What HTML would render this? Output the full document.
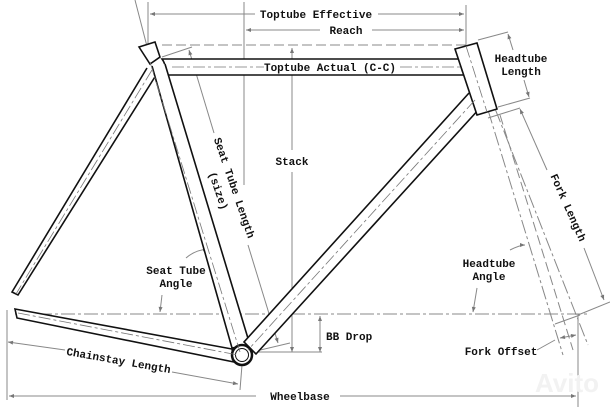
<!DOCTYPE html>
<html><head><meta charset="utf-8"><style>
html,body{margin:0;padding:0;background:#fff;}
svg{display:block;}
text{font-family:"Liberation Mono","DejaVu Sans Mono",monospace;font-size:11px;fill:#111;font-weight:bold;}
</style></head><body>
<svg width="610" height="407" viewBox="0 0 610 407" xmlns="http://www.w3.org/2000/svg">
<defs>
<marker id="a" viewBox="0 0 10 10" refX="10" refY="5" markerWidth="7" markerHeight="5" orient="auto-start-reverse"><path d="M0,1 L10,5 L0,9 z" fill="#777"/></marker>
</defs>
<g stroke="#888" stroke-width="1" fill="none">
<line x1="148" y1="2" x2="148" y2="60"/>
<line x1="466" y1="5" x2="466" y2="45"/>
<line x1="244" y1="2" x2="244" y2="185"/>
<line x1="135" y1="0" x2="150" y2="58"/>
<line x1="578" y1="314" x2="578" y2="407"/>
<line x1="7" y1="310" x2="7" y2="400"/>
<line x1="150" y1="14" x2="255" y2="14" marker-start="url(#a)"/>
<line x1="378" y1="14" x2="464" y2="14" marker-end="url(#a)"/>
<line x1="246" y1="30" x2="320" y2="30" marker-start="url(#a)"/>
<line x1="372" y1="30" x2="464" y2="30" marker-end="url(#a)"/>
<line x1="162" y1="45" x2="470" y2="45" stroke-dasharray="10,4"/>
<line x1="292" y1="48" x2="292" y2="150" marker-start="url(#a)"/>
<line x1="292" y1="172" x2="292" y2="352" marker-end="url(#a)"/>
<line x1="250" y1="352" x2="322" y2="352"/>
<line x1="320" y1="316" x2="320" y2="352" marker-start="url(#a)" marker-end="url(#a)"/>
<line x1="15" y1="314" x2="590" y2="314" stroke-dasharray="14,3,3,3"/>
<line x1="9" y1="396" x2="256" y2="396" marker-start="url(#a)"/>
<line x1="340" y1="396" x2="576" y2="396" marker-end="url(#a)"/>
<line x1="8" y1="342" x2="65" y2="350" marker-start="url(#a)"/>
<line x1="172" y1="372" x2="238" y2="384" marker-end="url(#a)"/>
<line x1="242" y1="365" x2="240" y2="390"/>
<line x1="162" y1="57" x2="192" y2="47"/>
<line x1="189" y1="50" x2="214" y2="133" marker-start="url(#a)"/>
<line x1="248" y1="245" x2="278" y2="343" marker-end="url(#a)"/>
<line x1="252" y1="352" x2="290" y2="343"/>
<path d="M186,258 Q195,250 208,249" marker-end="url(#a)"/>
<line x1="162" y1="295" x2="160" y2="312" marker-end="url(#a)"/>
<line x1="478" y1="40" x2="508" y2="32"/>
<line x1="498" y1="107" x2="530" y2="98"/>
<line x1="508" y1="34" x2="513" y2="50" marker-start="url(#a)"/>
<line x1="524" y1="80" x2="529" y2="97" marker-end="url(#a)"/>
<line x1="488" y1="118" x2="520" y2="108"/>
<line x1="520" y1="109" x2="547" y2="170" marker-start="url(#a)"/>
<line x1="584" y1="248" x2="604" y2="300" marker-end="url(#a)"/>
<line x1="578" y1="315" x2="610" y2="302"/>
<line x1="488" y1="110" x2="563" y2="355" stroke-dasharray="14,3,3,3"/>
<line x1="470" y1="45" x2="588" y2="345" stroke-dasharray="14,3,3,3"/>
<line x1="500" y1="115" x2="573" y2="350" stroke-dasharray="10,4"/>
<path d="M510,250 Q520,245 525,245" marker-end="url(#a)"/>
<path d="M477,288 Q475,300 473,312" marker-end="url(#a)"/>
<line x1="555" y1="324" x2="580" y2="315"/>
<line x1="537" y1="350" x2="555" y2="340" />
<line x1="560" y1="338" x2="576" y2="335" marker-start="url(#a)" marker-end="url(#a)"/>
</g>
<g stroke="#111" stroke-width="1.6" fill="#fff">
<path d="M147,68 L12,292 L18,295 L158,72"/>
<path d="M162,59 L465,59 Q458,67 465,75 L162,75 Q168,67 162,59 Z"/>
<path d="M152,66 L232,348 L250,345 L165,64"/>
<path d="M139,47 L155,42 L160,57 L150,64 Z"/>
<path d="M469,93 L244,342 L256,354 L480,108"/>
<path d="M455,49 L477,43 L497,109 L477,115 Z"/>
<path d="M15,309 L232,349 L234,362 L17,318 Z"/>
<circle cx="242" cy="355" r="10" stroke-width="2.5"/>
<circle cx="242" cy="355" r="6.5" stroke-width="1"/>
</g>
<g stroke="#777" stroke-width="0.8" fill="none" stroke-dasharray="12,3,3,3">
<line x1="150" y1="62" x2="240" y2="352"/>
<line x1="152" y1="70" x2="16" y2="294"/>
<line x1="172" y1="67" x2="265" y2="67"/>
<line x1="400" y1="67" x2="462" y2="67"/>
<line x1="475" y1="100" x2="248" y2="350"/>
<line x1="18" y1="313" x2="238" y2="355"/>
<line x1="466" y1="46" x2="487" y2="112"/>
</g>
<rect x="255" y="6" width="122" height="14" fill="#fff"/>
<rect x="264" y="61" width="134" height="12" fill="#fff"/>
<text x="316" y="18" text-anchor="middle">Toptube Effective</text>
<text x="346" y="34" text-anchor="middle">Reach</text>
<text x="330" y="71" text-anchor="middle">Toptube Actual (C-C)</text>
<text x="292" y="165" text-anchor="middle">Stack</text>
<text x="326" y="340">BB Drop</text>
<text x="521" y="62" text-anchor="middle">Headtube</text>
<text x="521" y="75" text-anchor="middle">Length</text>
<text x="489" y="267" text-anchor="middle">Headtube</text>
<text x="489" y="280" text-anchor="middle">Angle</text>
<text x="176" y="274" text-anchor="middle">Seat Tube</text>
<text x="176" y="287" text-anchor="middle">Angle</text>
<text x="501" y="355" text-anchor="middle">Fork Offset</text>
<text x="300" y="400" text-anchor="middle">Wheelbase</text>
<text transform="translate(118,364) rotate(10)" text-anchor="middle">Chainstay Length</text>
<text transform="translate(231,189) rotate(71)" text-anchor="middle">Seat Tube Length</text>
<text transform="translate(215,192) rotate(71)" text-anchor="middle">(size)</text>
<text transform="translate(565,209) rotate(66)" text-anchor="middle">Fork Length</text>
<text x="535" y="392" style="font-family:'Liberation Sans',sans-serif;font-size:26px;fill:#f2f2f2;">Avito</text>
</svg>
</body></html>
